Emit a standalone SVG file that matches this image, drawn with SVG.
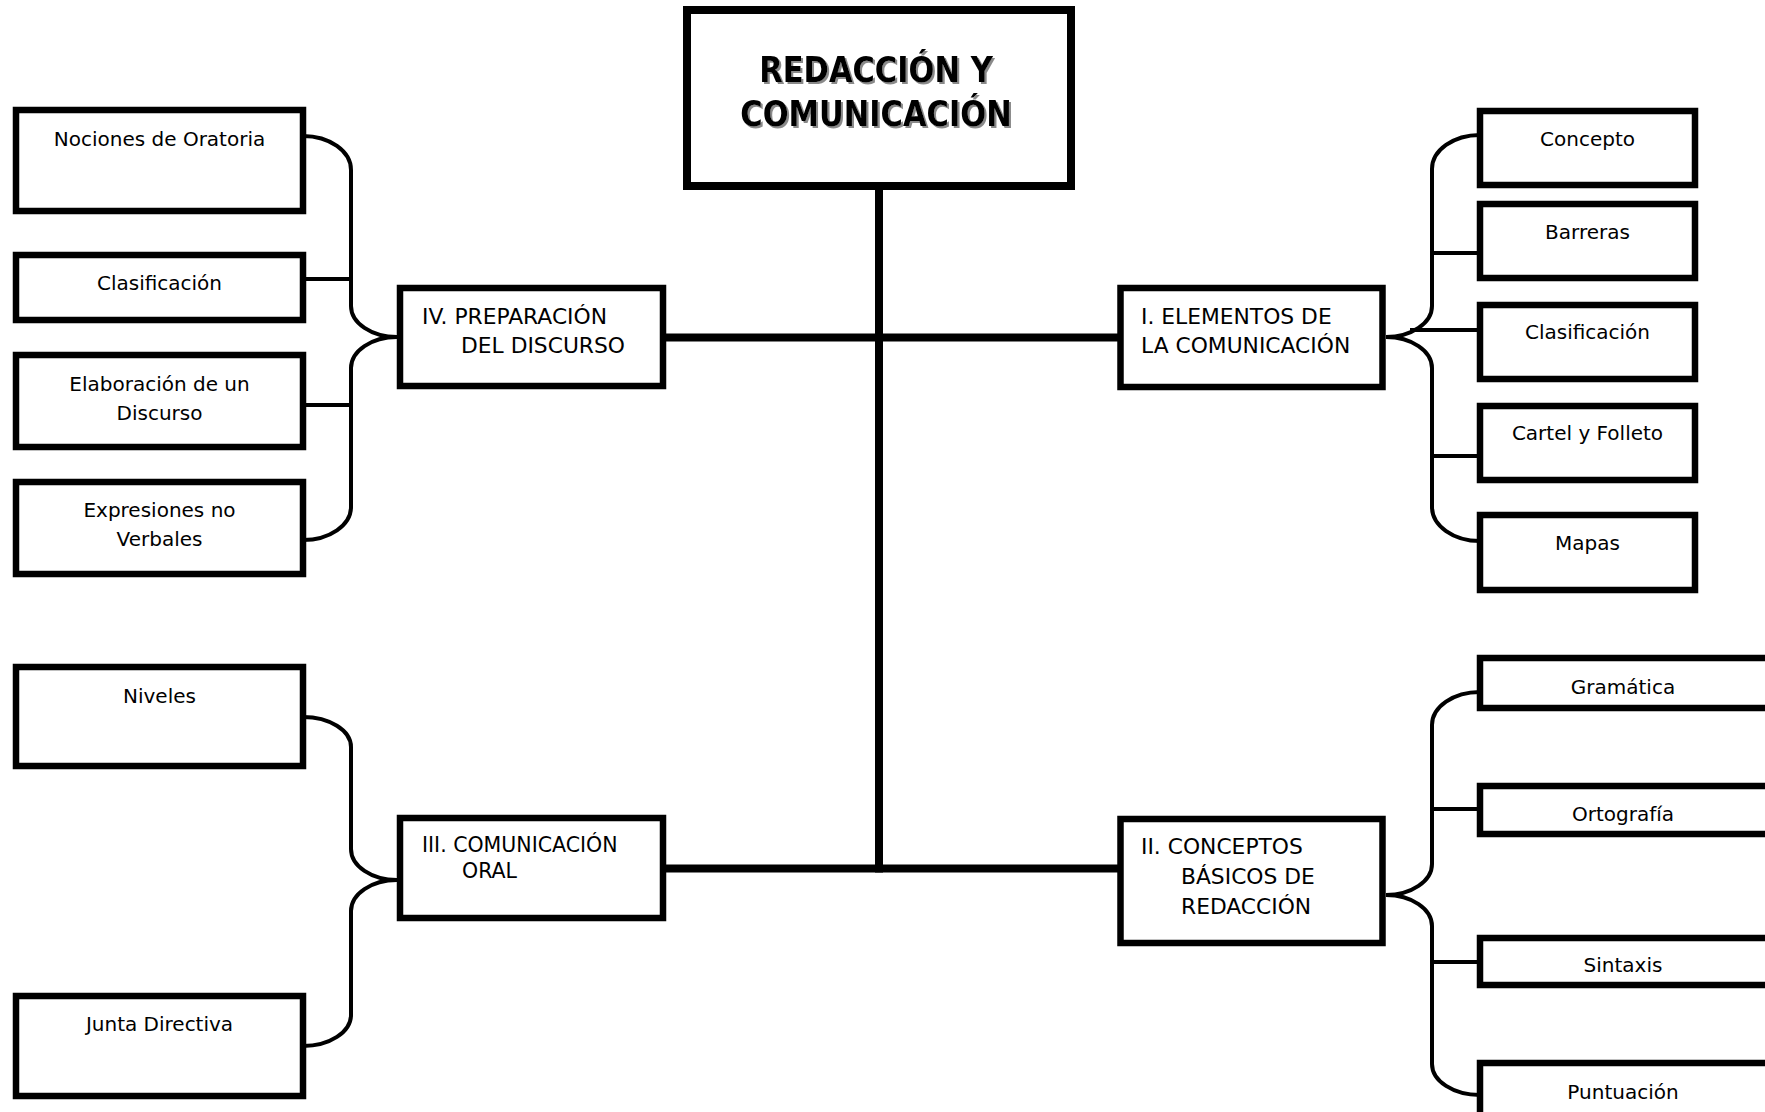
<svg xmlns="http://www.w3.org/2000/svg" width="1765" height="1112" viewBox="0 0 1765 1112">
<style>
  .box { fill: #ffffff; stroke: #000000; stroke-width: 6.5; }
  .title-box { fill: #ffffff; stroke: #000000; stroke-width: 8; }
  .trunk { fill: none; stroke: #000000; stroke-width: 8; stroke-linecap: butt; }
  .conn { fill: none; stroke: #000000; stroke-width: 4; stroke-linecap: butt; }
  .t { font-family: "DejaVu Sans", "Liberation Sans", sans-serif; fill: #000000; }
  .child { font-size: 20px; text-anchor: middle; }
  .sec { font-size: 21.8px; }
  .sec3 { font-size: 20.5px; }
  .title { font-size: 30.5px; font-weight: bold; text-anchor: middle; }
</style>
<defs>
  <filter id="shadow" x="-10%" y="-20%" width="120%" height="150%">
    <feDropShadow dx="2" dy="2" stdDeviation="0.6" flood-color="#8a8a8a" flood-opacity="1"/>
  </filter>
</defs>

<g id="connectors">
  <path class="trunk" d="M879,186 L879,872.5"/>
  <path class="trunk" d="M663,337.5 L1121,337.5"/>
  <path class="trunk" d="M663,868.5 L1121,868.5"/>
  <!-- IV -->
  <path class="conn" d="M303,136 A48,34 0 0 1 351,170 L351,306 A46,31 0 0 0 397,337"/>
  <path class="conn" d="M397,337 A46,31 0 0 0 351,368 L351,507 A48,33 0 0 1 303,540"/>
  <path class="conn" d="M303,279 L351,279"/>
  <path class="conn" d="M303,405 L351,405"/>
  <!-- III -->
  <path class="conn" d="M303,717 A48,30 0 0 1 351,747 L351,849 A46,31 0 0 0 397,880"/>
  <path class="conn" d="M397,880 A46,31 0 0 0 351,911 L351,1015 A48,31 0 0 1 303,1046"/>
  <!-- I -->
  <path class="conn" d="M1480,135 A48,34 0 0 0 1432,169 L1432,306 A46,31 0 0 1 1386,337"/>
  <path class="conn" d="M1386,337 A46,31 0 0 1 1432,368 L1432,507 A48,34 0 0 0 1480,541"/>
  <path class="conn" d="M1432,253 L1480,253"/>
  <path class="conn" d="M1410,330 L1480,330"/>
  <path class="conn" d="M1432,456 L1480,456"/>
  <!-- II -->
  <path class="conn" d="M1480,692 A48,33 0 0 0 1432,725 L1432,864 A46,31 0 0 1 1386,895"/>
  <path class="conn" d="M1386,895 A46,31 0 0 1 1432,926 L1432,1064 A48,31 0 0 0 1480,1095"/>
  <path class="conn" d="M1432,809 L1480,809"/>
  <path class="conn" d="M1432,962 L1480,962"/>
</g>

<g id="title">
  <rect class="title-box" x="687" y="10" width="384" height="176"/>
  <g filter="url(#shadow)">
    <text class="t title" transform="translate(876,82) scale(1,1.16)" x="0" y="0">REDACCIÓN Y</text>
    <text class="t title" transform="translate(876,126) scale(1,1.16)" x="0" y="0">COMUNICACIÓN</text>
  </g>
</g>

<g id="sec-iv">
  <rect class="box" x="400" y="288" width="263" height="98"/>
  <text class="t sec" x="422" y="324">IV. PREPARACIÓN</text>
  <text class="t sec" x="461" y="353">DEL DISCURSO</text>
</g>
<g id="sec-iii">
  <rect class="box" x="400" y="818" width="263" height="100"/>
  <text class="t sec3" x="422" y="852">III. COMUNICACIÓN</text>
  <text class="t sec3" x="462" y="878">ORAL</text>
</g>
<g id="sec-i">
  <rect class="box" x="1120.5" y="288" width="262" height="99"/>
  <text class="t sec" x="1141" y="324">I. ELEMENTOS DE</text>
  <text class="t sec" x="1141" y="353">LA COMUNICACIÓN</text>
</g>
<g id="sec-ii">
  <rect class="box" x="1120.5" y="819" width="262" height="124"/>
  <text class="t sec" x="1141" y="854">II. CONCEPTOS</text>
  <text class="t sec" x="1181" y="884">BÁSICOS DE</text>
  <text class="t sec" x="1181" y="914">REDACCIÓN</text>
</g>

<g id="iv-nociones">
  <rect class="box" x="16" y="110" width="287" height="101"/>
  <text class="t child" x="159.5" y="146">Nociones de Oratoria</text>
</g>
<g id="iv-clasificacion">
  <rect class="box" x="16" y="255" width="287" height="65"/>
  <text class="t child" x="159.5" y="290">Clasificación</text>
</g>
<g id="iv-elaboracion">
  <rect class="box" x="16" y="355" width="287" height="92"/>
  <text class="t child" x="159.5" y="391">Elaboración de un</text>
  <text class="t child" x="159.5" y="420">Discurso</text>
</g>
<g id="iv-expresiones">
  <rect class="box" x="16" y="482" width="287" height="92"/>
  <text class="t child" x="159.5" y="517">Expresiones no</text>
  <text class="t child" x="159.5" y="546">Verbales</text>
</g>
<g id="iii-niveles">
  <rect class="box" x="16" y="667" width="287" height="99"/>
  <text class="t child" x="159.5" y="703">Niveles</text>
</g>
<g id="iii-junta">
  <rect class="box" x="16" y="996" width="287" height="100"/>
  <text class="t child" x="159.5" y="1031">Junta Directiva</text>
</g>

<g id="i-concepto">
  <rect class="box" x="1480" y="111" width="215" height="74"/>
  <text class="t child" x="1587.5" y="146">Concepto</text>
</g>
<g id="i-barreras">
  <rect class="box" x="1480" y="204" width="215" height="74"/>
  <text class="t child" x="1587.5" y="239">Barreras</text>
</g>
<g id="i-clasificacion">
  <rect class="box" x="1480" y="305" width="215" height="74"/>
  <text class="t child" x="1587.5" y="339">Clasificación</text>
</g>
<g id="i-cartel">
  <rect class="box" x="1480" y="406" width="215" height="74"/>
  <text class="t child" x="1587.5" y="440">Cartel y Folleto</text>
</g>
<g id="i-mapas">
  <rect class="box" x="1480" y="515" width="215" height="75"/>
  <text class="t child" x="1587.5" y="550">Mapas</text>
</g>

<g id="ii-gramatica">
  <rect class="box" x="1480" y="658" width="300" height="50"/>
  <text class="t child" x="1623" y="694">Gramática</text>
</g>
<g id="ii-ortografia">
  <rect class="box" x="1480" y="786" width="300" height="48"/>
  <text class="t child" x="1623" y="821">Ortografía</text>
</g>
<g id="ii-sintaxis">
  <rect class="box" x="1480" y="938" width="300" height="47"/>
  <text class="t child" x="1623" y="972">Sintaxis</text>
</g>
<g id="ii-puntuacion">
  <rect class="box" x="1480" y="1063" width="300" height="80"/>
  <text class="t child" x="1623" y="1099">Puntuación</text>
</g>
</svg>
